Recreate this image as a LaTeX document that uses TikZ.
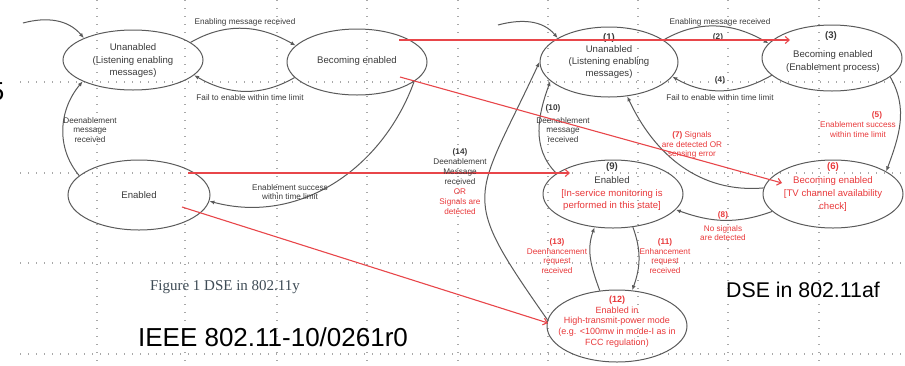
\documentclass[tikz,border=0pt]{standalone}
\usepackage{fontspec}
\setmainfont{Liberation Sans}
\newfontfamily\capserif{Liberation Serif}
\usetikzlibrary{shapes.geometric,arrows.meta}

\definecolor{linegray}{HTML}{5A5A5A}
\definecolor{textgray}{HTML}{3A3A3A}
\definecolor{redline}{HTML}{E8464A}
\definecolor{redtext}{HTML}{E8383A}
\definecolor{gridgray}{HTML}{A8A8A8}
\definecolor{capgray}{HTML}{3E4B55}

\begin{document}
\begin{tikzpicture}[x=1pt,y=-1pt,
  griddot/.style={draw=gridgray, line width=1.4pt, dash pattern=on 1.4pt off 6.6pt},
  state/.style={draw=linegray, line width=1pt, ellipse, inner sep=0pt},
  edge/.style={draw=linegray, line width=1pt, -{Latex[length=5pt,width=4pt]}},
  redarrow/.style={draw=redline, line width=1.1pt, -{Straight Barb[length=4pt,width=7pt]}},
  lbl/.style={font=\fontsize{8.2}{9.8}\selectfont, text=textgray, align=center, inner sep=0pt},
  rlbl/.style={lbl, text=redtext},
  stxt/.style={font=\fontsize{9.6}{12.5}\selectfont, text=textgray, align=center, inner sep=0pt},
  rstxt/.style={stxt, text=redtext},
  big/.style={font=\fontsize{26}{26}\selectfont, inner sep=0pt}]
\useasboundingbox (0,0) rectangle (905,365);

% dotted grid
\foreach \gx in {97,185,277,367,458,548,638,728,819}
  \draw[griddot] (\gx,0) -- (\gx,365);
\foreach \gy in {82,173,263,354}
  \draw[griddot] (20,\gy) -- (905,\gy);

% ---------- 802.11y state machine ----------
\node[state, minimum width=140pt, minimum height=60pt] (U1) at (133,60) {};
\node[state, minimum width=140pt, minimum height=66pt] (B1) at (357,62) {};
\node[state, minimum width=142pt, minimum height=70pt] (E1) at (139,195) {};

\node[stxt] (U1t) at (133,61) {Unanabled\\(Listening enabling\\messages)};
\node[stxt] (B1t) at (357,61) {Becoming enabled};
\node[stxt] (E1t) at (139,195) {Enabled};

\coordinate (s1) at (23,23);
\draw[edge] (s1) to[out=15,in=130] (U1.156);
\draw[edge] (U1.17) to[out=30,in=150] (B1.165);
\draw[edge] (B1.194) to[out=210,in=330] (U1.346);
\draw[edge] (E1.162) to[out=130,in=230] (U1.203);
\draw[edge] (B1.341) to[out=250,in=345] (E1.355);

\node[lbl] (l1) at (245,22) {Enabling message received};
\node[lbl] (l2) at (250,98) {Fail to enable within time limit};
\node[lbl] (l3) at (90,130) {Deenablement\\message\\received};
\node[lbl] (l4) at (290,192) {Enablement success\\within time limit};

% ---------- 802.11af state machine ----------
\node[state, minimum width=138pt, minimum height=70pt] (U2) at (609,62) {};
\node[state, minimum width=140pt, minimum height=66pt] (B3) at (832,58) {};
\node[state, minimum width=140pt, minimum height=68pt] (E9) at (613,194) {};
\node[state, minimum width=140pt, minimum height=68pt] (B6) at (833,194) {};
\node[state, minimum width=140pt, minimum height=72pt] (E12) at (617,326) {};

\node[stxt, font=\fontsize{9.6}{11.8}\selectfont] (U2t) at (609,56)
  {\textbf{(1)}\\Unanabled\\(Listening enabling\\messages)};
\node[stxt] (B3n) at (831,36) {\textbf{(3)}};
\node[stxt, font=\fontsize{9.6}{13}\selectfont] (B3t) at (833,61.5)
  {Becoming enabled\\(Enablement process)};
\node[stxt] (E9n) at (612,167) {\textbf{(9)}};
\node[stxt, font=\fontsize{9.6}{12.5}\selectfont] (E9t) at (612,194)
  {Enabled\\\textcolor{redtext}{[In-service monitoring is}\\\textcolor{redtext}{performed in this state]}};
\node[rstxt] (B6n) at (833,167) {\textbf{(6)}};
\node[rstxt, font=\fontsize{9.6}{13}\selectfont] (B6t) at (833,194)
  {Becoming enabled\\{}[TV channel availability\\check]};
\node[rstxt, font=\fontsize{9}{10.8}\selectfont] (E12t) at (617,321.5)
  {\textbf{(12)}\\Enabled in\\High-transmit-power mode\\(e.g. <100mw in mode-I as in\\FCC regulation)};

\coordinate (s2) at (498,25);
\draw[edge] (s2) to[out=15,in=130] (U2.155);
\draw[edge] (U2.22) to[out=30,in=150] (B3.167);
\draw[edge] (B3.196) to[out=210,in=330] (U2.347);
\draw[edge] (B3.342) to[out=300,in=70] (B6.23);
\draw[edge] (B6.175) to[out=185,in=295] (U2.298);
\draw[edge] (B6.196) to[out=200,in=340] (E9.346);
\draw[edge] (E9.160) to[out=135,in=250] (U2.198);
\draw[edge] (E12.175) to[out=125,in=245,looseness=1.55] (U2.180);
\draw[edge] (E9.301) to[out=290,in=70] (E12.67);
\draw[edge] (E12.116) to[out=110,in=250] (E9.241);

\node[lbl] (m1) at (720,22) {Enabling message received};
\node[lbl] (m2) at (718,37) {\textbf{(2)}};
\node[lbl] (m4) at (720,80) {\textbf{(4)}};
\node[lbl] (m4t) at (720,98) {Fail to enable within time limit};
\node[rlbl] (m5) at (877,115) {\textbf{(5)}};
\node[rlbl] (m5t) at (858,129.5) {Enablement success\\within time limit};
\node[rlbl] (m7) at (692,145) {\textbf{(7)} Signals\\are detected OR\\sensing error};
\node[rlbl] (m8) at (723,215) {\textbf{(8)}};
\node[rlbl] (m8t) at (723,233) {No signals\\are detected};
\node[lbl] (m10) at (553,108) {\textbf{(10)}};
\node[lbl] (m10t) at (563,130) {Deenablement\\message\\received};
\node[rlbl] (m11) at (665,256) {\textbf{(11)}\\Enhancement\\request\\received};
\node[rlbl] (m13) at (557,256) {\textbf{(13)}\\Deenhancement\\request\\received};

% ---------- links between the two machines ----------
\coordinate (r1a) at (399,40);  \coordinate (r1b) at (790,40);
\coordinate (r2a) at (400,77);  \coordinate (r2b) at (782,183);
\coordinate (r3a) at (188,173); \coordinate (r3b) at (570,173);
\coordinate (r4a) at (182,207); \coordinate (r4b) at (548,323);
\draw[redarrow] (r1a) -- (r1b);
\draw[redarrow] (r2a) -- (r2b);
\draw[redarrow] (r3a) -- (r3b);
\draw[redarrow] (r4a) -- (r4b);

\node[lbl, font=\fontsize{8.2}{10}\selectfont] (m14) at (460,182)
  {\textbf{(14)}\\Deenablement\\Message\\received\\\textcolor{redtext}{OR}\\\textcolor{redtext}{Signals are}\\\textcolor{redtext}{detected}};

% ---------- captions ----------
\node[font=\capserif\fontsize{15}{15}\selectfont, text=capgray, inner sep=0pt] (cap) at (225,287) {Figure 1 DSE in 802.11y};
\node[big] (ieee) at (273,337) {IEEE 802.11-10/0261r0};
\node[font=\fontsize{21.3}{22}\selectfont, inner sep=0pt] (dse) at (803,290) {DSE in 802.11af};
\node[big, anchor=base east] (five) at (4.5,100) {5};
\end{tikzpicture}
\end{document}
